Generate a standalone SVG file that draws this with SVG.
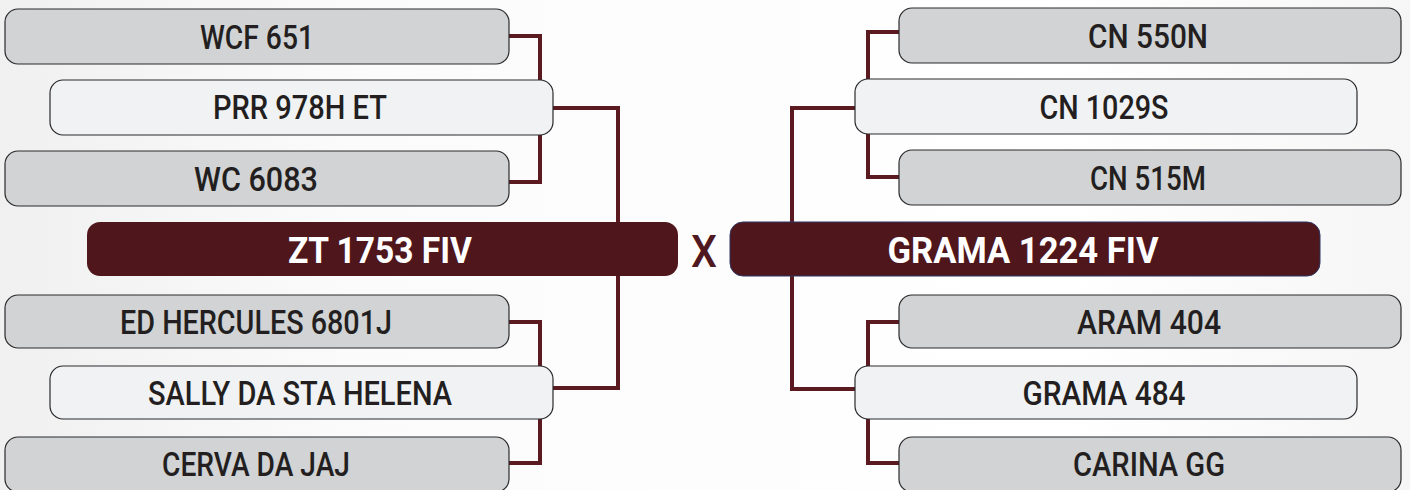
<svg xmlns="http://www.w3.org/2000/svg" width="1410" height="490" viewBox="0 0 1410 490">
<defs>
<linearGradient id="bg" x1="0" y1="0" x2="1" y2="0">
<stop offset="0" stop-color="#f0f0f1"/>
<stop offset="0.25" stop-color="#fbfbfb"/>
<stop offset="0.75" stop-color="#ffffff"/>
<stop offset="1" stop-color="#f6f6f7"/>
</linearGradient>
<style>
.g{fill:#d1d3d5;stroke:#2a2a2c;stroke-width:1.2}
.l{fill:#f1f2f4;stroke:#2a2a2c;stroke-width:1.2}
.m{fill:#4f161c}
.t{font-family:Roboto,"Liberation Sans",sans-serif;font-weight:500;font-size:33px;fill:#231f20;text-anchor:middle}
.w{font-family:Roboto,"Liberation Sans",sans-serif;font-weight:700;font-size:36px;fill:#ffffff;text-anchor:middle}
.c{fill:none;stroke:#5a1a20;stroke-width:4}
</style>
</defs>
<rect width="1410" height="490" fill="url(#bg)"/>
<g id="connectors">
<path class="c" d="M509,36 H540 V80"/>
<path class="c" d="M540,135 V182 H509"/>
<path class="c" d="M553,108 H618 V388 H553"/>
<path class="c" d="M509,322 H540 V367"/>
<path class="c" d="M540,417 V463 H509"/>
<path class="c" d="M899,32 H868 V79"/>
<path class="c" d="M868,133 V177 H899"/>
<path class="c" d="M855,108 H792 V389 H855"/>
<path class="c" d="M899,322 H868 V367"/>
<path class="c" d="M868,417 V463 H899"/>
</g>
<g id="n-wcf651"><rect class="g" x="5" y="9" width="504" height="55" rx="13"/><text class="t" x="257" y="49" textLength="114" lengthAdjust="spacingAndGlyphs">WCF 651</text></g>
<g id="n-prr978het"><rect class="l" x="50" y="80" width="503" height="55" rx="13"/><text class="t" x="300" y="119" textLength="174" lengthAdjust="spacingAndGlyphs">PRR 978H ET</text></g>
<g id="n-wc6083"><rect class="g" x="5" y="151" width="504" height="55" rx="13"/><text class="t" x="256" y="191" textLength="124" lengthAdjust="spacingAndGlyphs">WC 6083</text></g>
<g id="n-zt1753"><rect class="m" x="87" y="222" width="591" height="54" rx="13"/><text class="w" x="380" y="263" textLength="184" lengthAdjust="spacingAndGlyphs">ZT 1753 FIV</text></g>
<g id="n-edhercules"><rect class="g" x="5" y="295" width="504" height="53" rx="13"/><text class="t" x="256" y="334" textLength="272" lengthAdjust="spacingAndGlyphs">ED HERCULES 6801J</text></g>
<g id="n-sally"><rect class="l" x="50" y="366" width="503" height="53" rx="13"/><text class="t" x="300" y="405" textLength="304" lengthAdjust="spacingAndGlyphs">SALLY DA STA HELENA</text></g>
<g id="n-cerva"><rect class="g" x="5" y="437" width="504" height="55" rx="13"/><text class="t" x="256" y="476" textLength="188" lengthAdjust="spacingAndGlyphs">CERVA DA JAJ</text></g>
<g id="x-label"><text x="704" y="267" font-family="Roboto,'Liberation Sans',sans-serif" font-size="45" font-weight="500" fill="#501820" text-anchor="middle" textLength="26" lengthAdjust="spacingAndGlyphs">X</text></g>
<g id="n-cn550n"><rect class="g" x="899" y="8" width="502" height="55" rx="13"/><text class="t" x="1148" y="48" textLength="120" lengthAdjust="spacingAndGlyphs">CN 550N</text></g>
<g id="n-cn1029s"><rect class="l" x="855" y="79" width="502" height="55" rx="13"/><text class="t" x="1104" y="119" textLength="129" lengthAdjust="spacingAndGlyphs">CN 1029S</text></g>
<g id="n-cn515m"><rect class="g" x="899" y="150" width="502" height="55" rx="13"/><text class="t" x="1148" y="190" textLength="116" lengthAdjust="spacingAndGlyphs">CN 515M</text></g>
<g id="n-grama1224"><rect class="m" x="730" y="222" width="590" height="54" rx="13" stroke="#2e3560" stroke-width="1"/><text class="w" x="1023" y="263" textLength="271" lengthAdjust="spacingAndGlyphs">GRAMA 1224 FIV</text></g>
<g id="n-aram404"><rect class="g" x="899" y="295" width="502" height="53" rx="13"/><text class="t" x="1149" y="334" textLength="144" lengthAdjust="spacingAndGlyphs">ARAM 404</text></g>
<g id="n-grama484"><rect class="l" x="855" y="366" width="502" height="53" rx="13"/><text class="t" x="1104" y="405" textLength="163" lengthAdjust="spacingAndGlyphs">GRAMA 484</text></g>
<g id="n-carinagg"><rect class="g" x="899" y="437" width="502" height="55" rx="13"/><text class="t" x="1149" y="476" textLength="152" lengthAdjust="spacingAndGlyphs">CARINA GG</text></g>
</svg>
